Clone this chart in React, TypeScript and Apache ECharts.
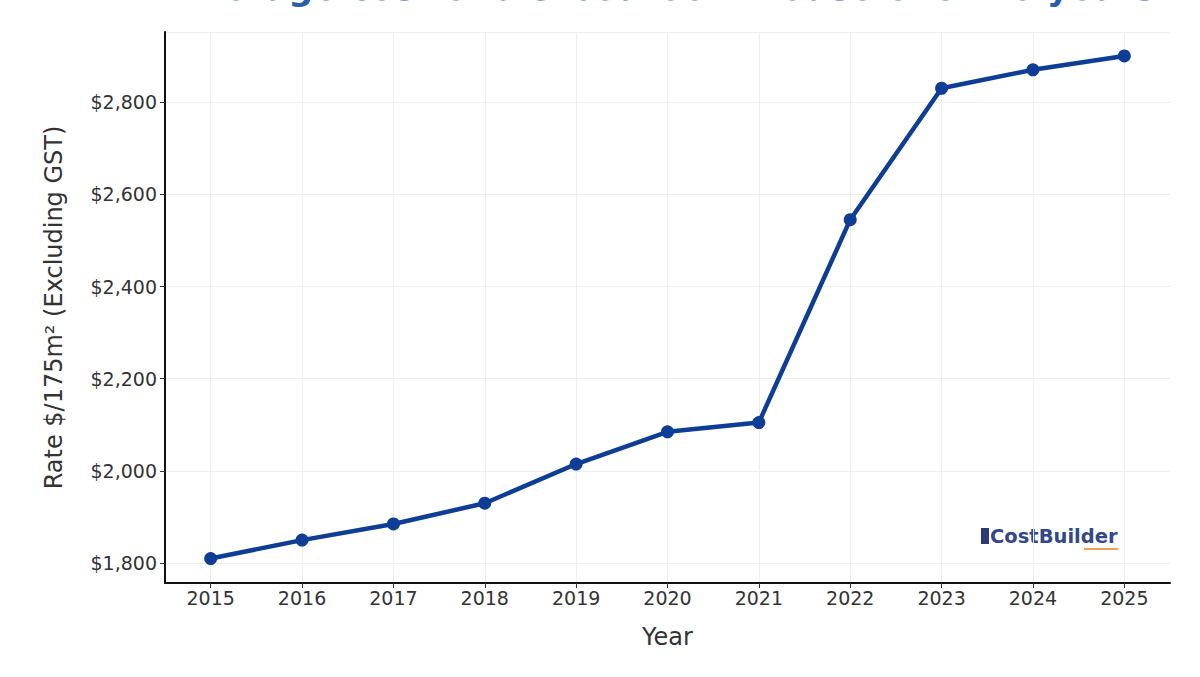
import React, { useEffect, useRef } from "react";
import * as echarts from "echarts";

const years = ["2015", "2016", "2017", "2018", "2019", "2020", "2021", "2022", "2023", "2024", "2025"];
const rates = [1810, 1850, 1885, 1930, 2015, 2085, 2105, 2545, 2830, 2870, 2900];
const titleText = "Average cost of a 3 bedroom house over 10 years";
const yAxisName = "Rate $/175m² (Excluding GST)";
const xAxisName = "Year";
const logoText = "CostBuilder";

const FONT = "DejaVu Sans";

export default function App() {
  const ref = useRef<HTMLDivElement>(null);
  useEffect(() => {
    document.body.style.margin = "0";
    const chart = echarts.init(ref.current!, null, { renderer: "svg" });
    chart.setOption({
      animation: false,
      backgroundColor: "#ffffff",
      grid: { left: 165, top: 32, right: 30, bottom: 94, containLabel: false },
      xAxis: {
        type: "category",
        data: years,
        boundaryGap: true,
        name: xAxisName,
        nameLocation: "middle",
        nameGap: 42,
        nameTextStyle: { fontFamily: FONT, fontSize: 24, color: "#333" },
        axisLine: { show: true, lineStyle: { color: "#111", width: 2 } },
        axisTick: { show: true, alignWithLabel: true, length: 5, lineStyle: { color: "#333" } },
        axisLabel: { fontFamily: FONT, fontSize: 19, color: "#333", margin: 5 },
        splitLine: { show: true, alignWithLabel: true, lineStyle: { color: "#eeeeee", width: 1 } },
      },
      yAxis: {
        type: "value",
        min: 1757,
        max: 2952,
        splitNumber: 6,
        name: yAxisName,
        nameLocation: "middle",
        nameGap: 99,
        nameTextStyle: { fontFamily: FONT, fontSize: 24, color: "#333" },
        axisLine: { show: true, lineStyle: { color: "#111", width: 2 } },
        axisTick: { show: true, length: 5, lineStyle: { color: "#333" } },
        axisLabel: {
          fontFamily: FONT,
          fontSize: 19,
          color: "#333",
          margin: 8,
          showMinLabel: false,
          showMaxLabel: false,
          formatter: (v: number) => (v % 200 === 0 ? "$" + v.toLocaleString("en-US") : ""),
        },
        splitLine: { show: true, lineStyle: { color: "#eeeeee", width: 1 } },
      },
      series: [
        {
          type: "line",
          data: rates,
          symbol: "circle",
          symbolSize: 13,
          lineStyle: { color: "#0e3d96", width: 4.5 },
          itemStyle: { color: "#0e3d96" },
        },
      ],
      graphic: [
        {
          type: "text",
          x: 665,
          y: 5,
          style: {
            text: titleText,
            font: `bold 35px ${FONT}`,
            fill: "#2a5cb0",
            textAlign: "center",
            textVerticalAlign: "bottom",
          },
        },
        {
          type: "rect",
          shape: { x: 981, y: 528, width: 8, height: 16 },
          style: { fill: "#2c3a78" },
        },
        {
          type: "text",
          x: 990,
          y: 536,
          style: {
            text: logoText,
            font: `bold 19.5px ${FONT}`,
            fill: "#34478a",
            textAlign: "left",
            textVerticalAlign: "middle",
          },
        },
        {
          type: "rect",
          shape: { x: 1084, y: 548, width: 34, height: 2 },
          style: { fill: "#f0a050" },
        },
      ],
    });
    return () => chart.dispose();
  }, []);
  return <div ref={ref} style={{ width: 1200, height: 677 }} />;
}
